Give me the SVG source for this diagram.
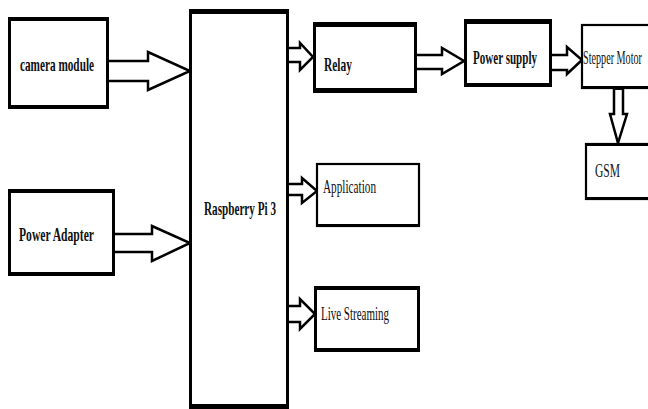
<svg xmlns="http://www.w3.org/2000/svg" width="648" height="409" viewBox="0 0 648 409">
<style>
.box{fill:#fff;stroke:#000;stroke-width:3}
.thin{fill:#fff;stroke:#000;stroke-width:2.2}
.band{fill:#000}
.arrow{fill:#fff;stroke:#000;stroke-width:2.5;stroke-linejoin:miter}
.b{font-family:"Liberation Serif","Times New Roman",serif;font-weight:bold;font-size:19px;fill:#111}
.r{font-family:"Liberation Serif","Times New Roman",serif;font-size:18px;fill:#111}
</style>
<rect width="648" height="409" fill="#fff"/>
<g id="connectors">
<path class="arrow" d="M109,61 H148 V52 L190,71 L148,90 V81 H109"/>
<path class="arrow" d="M115,234 H152 V226 L190,243 L152,261 V252 H115"/>
<path class="arrow" d="M289,48 H300 V43 L313,57 L300,70 V62 H289"/>
<path class="arrow" d="M289,184 H302 V178 L317,191 L302,203 V195 H289"/>
<path class="arrow" d="M289,306 H300 V299 L315,314 L300,329 V322 H289"/>
<path class="arrow" d="M417,55 H442 V48 L464,61 L442,74 V69 H417"/>
<path class="arrow" d="M552,55 H567 V47 L582,60 L567,74 V70 H552"/>
<path class="arrow" d="M614,89 V114 H610 L618,143 L627,114 H623 V89"/>
<rect class="band" x="613" y="86" width="11" height="4"/>
</g>
<g id="camera">
<rect class="box" x="9.5" y="19" width="98" height="88"/>
<rect class="band" x="8" y="17" width="101" height="4"/>
<rect class="band" x="8" y="105" width="101" height="4"/>
<text class="b" x="20" y="71" textLength="74" lengthAdjust="spacingAndGlyphs">camera module</text>
</g>
<g id="poweradapter">
<rect class="box" x="9.5" y="191" width="104" height="83"/>
<rect class="band" x="8" y="189" width="107" height="4"/>
<rect class="band" x="8" y="272" width="107" height="4"/>
<text class="b" x="19" y="241" textLength="75" lengthAdjust="spacingAndGlyphs">Power Adapter</text>
</g>
<g id="raspberry">
<rect class="box" x="190.5" y="11" width="97" height="396"/>
<rect class="band" x="189" y="9" width="100" height="5"/>
<rect class="band" x="189" y="404" width="100" height="5"/>
<text class="b" x="204" y="215" textLength="72" lengthAdjust="spacingAndGlyphs">Raspberry Pi 3</text>
</g>
<g id="relay">
<rect class="box" x="314.5" y="24" width="101" height="67"/>
<rect class="band" x="313" y="22" width="104" height="5"/>
<rect class="band" x="313" y="88" width="104" height="5"/>
<text class="b" x="324" y="71" textLength="28" lengthAdjust="spacingAndGlyphs">Relay</text>
</g>
<g id="powersupply">
<rect class="box" x="465.5" y="21" width="85" height="64"/>
<rect class="band" x="464" y="19" width="88" height="5"/>
<rect class="band" x="464" y="83" width="88" height="4"/>
<text class="b" x="473" y="64" textLength="64" lengthAdjust="spacingAndGlyphs">Power supply</text>
</g>
<g id="stepper">
<rect class="thin" x="582" y="25" width="80" height="63"/>
<rect class="band" x="581" y="86" width="80" height="3"/>
<text class="r" transform="translate(583,64) scale(0.565,1)">Stepper Motor</text>
</g>
<g id="gsm">
<rect class="thin" x="586" y="144" width="76" height="55"/>
<rect class="band" x="585" y="143" width="76" height="3"/>
<rect class="band" x="585" y="197" width="76" height="3"/>
<text class="r" x="595" y="177" textLength="25" lengthAdjust="spacingAndGlyphs">GSM</text>
</g>
<g id="application">
<rect class="thin" x="317" y="164" width="102" height="62"/>
<rect class="band" x="316" y="224" width="104" height="3"/>
<text class="r" x="323" y="193" textLength="53" lengthAdjust="spacingAndGlyphs">Application</text>
</g>
<g id="livestreaming">
<rect class="box" x="315.5" y="288" width="103" height="62"/>
<rect class="band" x="314" y="286" width="106" height="4"/>
<rect class="band" x="314" y="348" width="106" height="4"/>
<text class="r" x="321" y="320" textLength="68" lengthAdjust="spacingAndGlyphs">Live Streaming</text>
</g>
</svg>
